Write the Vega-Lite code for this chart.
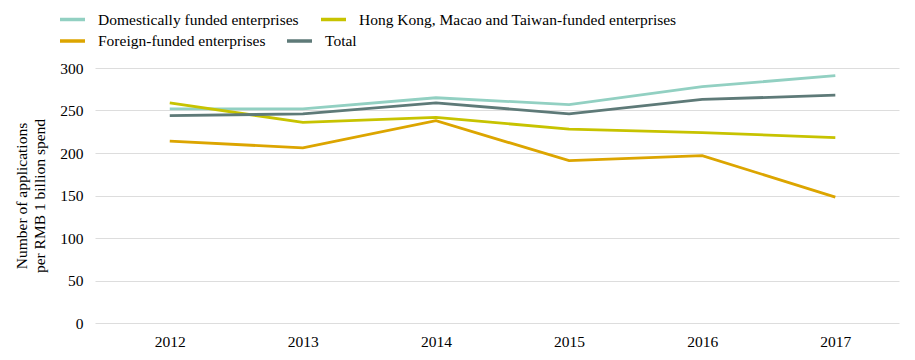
{
  "$schema": "https://vega.github.io/schema/vega-lite/v6.json",
  "width": 804,
  "height": 255,
  "autosize": {"type": "none"},
  "padding": {"left": 95, "top": 68, "right": 16, "bottom": 37},
  "background": "white",
  "config": {
    "font": "Liberation Serif",
    "view": {"stroke": null},
    "legend": {
      "title": null,
      "orient": "none",
      "direction": "horizontal",
      "padding": 0,
      "symbolType": "stroke",
      "symbolSize": 625,
      "symbolStrokeWidth": 3.5,
      "labelFontSize": 15.5,
      "labelColor": "#000",
      "labelOffset": 11,
      "labelLimit": 500
    }
  },
  "data": {
    "values": [
      {"year": "2012", "series": "Domestically funded enterprises", "value": 252},
      {"year": "2013", "series": "Domestically funded enterprises", "value": 252},
      {"year": "2014", "series": "Domestically funded enterprises", "value": 265},
      {"year": "2015", "series": "Domestically funded enterprises", "value": 257},
      {"year": "2016", "series": "Domestically funded enterprises", "value": 278},
      {"year": "2017", "series": "Domestically funded enterprises", "value": 291},
      {"year": "2012", "series": "Hong Kong, Macao and Taiwan-funded enterprises", "value": 259},
      {"year": "2013", "series": "Hong Kong, Macao and Taiwan-funded enterprises", "value": 236},
      {"year": "2014", "series": "Hong Kong, Macao and Taiwan-funded enterprises", "value": 242},
      {"year": "2015", "series": "Hong Kong, Macao and Taiwan-funded enterprises", "value": 228},
      {"year": "2016", "series": "Hong Kong, Macao and Taiwan-funded enterprises", "value": 224},
      {"year": "2017", "series": "Hong Kong, Macao and Taiwan-funded enterprises", "value": 218},
      {"year": "2012", "series": "Foreign-funded enterprises", "value": 214},
      {"year": "2013", "series": "Foreign-funded enterprises", "value": 206},
      {"year": "2014", "series": "Foreign-funded enterprises", "value": 238},
      {"year": "2015", "series": "Foreign-funded enterprises", "value": 191},
      {"year": "2016", "series": "Foreign-funded enterprises", "value": 197},
      {"year": "2017", "series": "Foreign-funded enterprises", "value": 148},
      {"year": "2012", "series": "Total", "value": 244},
      {"year": "2013", "series": "Total", "value": 246},
      {"year": "2014", "series": "Total", "value": 259},
      {"year": "2015", "series": "Total", "value": 246},
      {"year": "2016", "series": "Total", "value": 263},
      {"year": "2017", "series": "Total", "value": 268}
    ]
  },
  "encoding": {
    "x": {
      "field": "year",
      "type": "ordinal",
      "scale": {"type": "point", "padding": 0.52, "align": 0.54},
      "axis": {
        "title": null,
        "labelAngle": 0,
        "domain": false,
        "ticks": false,
        "labelFontSize": 15.5,
        "labelColor": "#000",
        "labelPadding": 11
      }
    },
    "y": {
      "field": "value",
      "type": "quantitative",
      "scale": {"domain": [0, 300]},
      "axis": {
        "values": [0, 50, 100, 150, 200, 250, 300],
        "title": ["Number of applications", "per RMB 1 billion spend"],
        "titleFont": "Liberation Serif",
        "titleFontWeight": "normal",
        "titleFontSize": 15.5,
        "titleColor": "#000",
        "titleLineHeight": 18,
        "titlePadding": 12,
        "domain": false,
        "ticks": false,
        "labelFontSize": 15.5,
        "labelColor": "#000",
        "labelPadding": 12,
        "gridColor": "#dddddd",
        "gridWidth": 1
      }
    }
  },
  "layer": [
    {
      "transform": [{"filter": {"field": "series", "oneOf": ["Domestically funded enterprises", "Hong Kong, Macao and Taiwan-funded enterprises"]}}],
      "mark": {"type": "line", "strokeWidth": 2.8, "strokeJoin": "miter"},
      "encoding": {
        "color": {
          "field": "series",
          "type": "nominal",
          "scale": {
            "domain": ["Domestically funded enterprises", "Hong Kong, Macao and Taiwan-funded enterprises"],
            "range": ["#92d0c2", "#c7c300"]
          },
          "legend": {"legendX": -37, "legendY": -63, "columnPadding": 15}
        }
      }
    },
    {
      "transform": [{"filter": {"field": "series", "oneOf": ["Foreign-funded enterprises", "Total"]}}],
      "mark": {"type": "line", "strokeWidth": 2.8, "strokeJoin": "miter"},
      "encoding": {
        "color": {
          "field": "series",
          "type": "nominal",
          "scale": {
            "domain": ["Foreign-funded enterprises", "Total"],
            "range": ["#dca500", "#5e7a78"]
          },
          "legend": {"legendX": -37, "legendY": -41.5, "columnPadding": 14}
        }
      }
    }
  ],
  "resolve": {"scale": {"color": "independent"}, "legend": {"color": "independent"}}
}
